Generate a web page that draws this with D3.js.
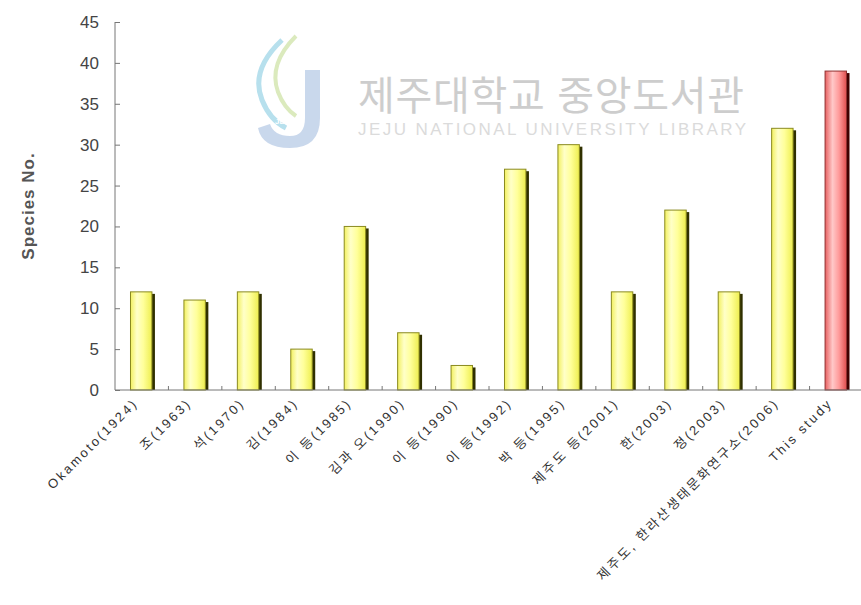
<!DOCTYPE html>
<html>
<head>
<meta charset="utf-8">
<script src="https://cdn.jsdelivr.net/npm/d3@7"></script>
<style>
    body { margin: 0; background: #fff; }
    text { font-family: Arial, "Liberation Sans", "Noto Sans CJK KR", sans-serif; }
</style>
</head>
<body>
<div id="chart"></div>
<script>
const categories = [
    "Okamoto(1924)", "조(1963)", "석(1970)", "김(1984)", "이 등(1985)",
    "김과 오(1990)", "이 등(1990)", "이 등(1992)", "박 등(1995)", "제주도 등(2001)",
    "한(2003)", "정(2003)", "제주도, 한라산생태문화연구소(2006)", "This study"
];
const speciesNo = [12, 11, 12, 5, 20, 7, 3, 27, 30, 12, 22, 12, 32, 39];
const yTicks = [0, 5, 10, 15, 20, 25, 30, 35, 40, 45];

const chart = {
    width: 861,
    height: 605,
    left: 115,
    right: 863,
    top: 22,
    bottom: 390,
    svg: {},
    plot: function() {
        const _self = chart;

        _self.svg = d3.select("#chart")
            .append("svg")
            .attr("width", _self.width)
            .attr("height", _self.height);

        const defs = _self.svg.append("defs");
        const addGrad = (id, stops) => {
            const g = defs.append("linearGradient").attr("id", id)
                .attr("x1", "0%").attr("x2", "100%").attr("y1", "0%").attr("y2", "0%");
            stops.forEach(s => g.append("stop").attr("offset", s[0]).attr("stop-color", s[1]));
        };
        addGrad("yellow", [["0%", "#f2f060"], ["30%", "#ffffc8"], ["60%", "#ffff9a"], ["100%", "#eeee50"]]);
        addGrad("red", [["0%", "#e86060"], ["35%", "#ffc8c8"], ["65%", "#ff9a9a"], ["100%", "#e05050"]]);

        _self.watermark();

        const x = d3.scaleBand()
            .domain(categories)
            .range([_self.left, _self.right])
            .paddingInner(0.58)
            .paddingOuter(0.29);

        const y = d3.scaleLinear()
            .domain([0, 45])
            .range([_self.bottom, _self.top]);

        // Y axis
        const yAxis = _self.svg.append("g")
            .attr("transform", `translate(${_self.left},0)`)
            .call(d3.axisRight(y).tickValues(yTicks).tickSize(5).tickFormat(""));
        yAxis.select(".domain").attr("stroke", "#777").attr("d", `M0,${_self.top}V${_self.bottom}`);
        yAxis.selectAll(".tick line").attr("stroke", "#777");

        _self.svg.append("g")
            .selectAll("text")
            .data(yTicks)
            .enter()
            .append("text")
            .attr("x", 99)
            .attr("y", d => y(d) + 6)
            .attr("text-anchor", "end")
            .attr("font-size", 17)
            .attr("fill", "#444")
            .text(d => d);

        _self.svg.append("text")
            .attr("transform", `translate(34,${(_self.top + _self.bottom) / 2}) rotate(-90)`)
            .attr("text-anchor", "middle")
            .attr("font-size", 17)
            .attr("font-weight", "bold")
            .attr("letter-spacing", 1)
            .attr("fill", "#555")
            .text("Species No.");

        // Bars: shadow then face
        const bars = _self.svg.selectAll("g.bar")
            .data(speciesNo)
            .enter()
            .append("g")
            .attr("class", "bar");

        bars.append("rect")
            .attr("x", (d, i) => x(categories[i]) + 3)
            .attr("y", d => y(d) + 2)
            .attr("width", x.bandwidth() - 1)
            .attr("height", d => _self.bottom - y(d) - 2)
            .attr("fill", (d, i) => i === categories.length - 1 ? "#400000" : "#303000");

        bars.append("rect")
            .attr("x", (d, i) => x(categories[i]))
            .attr("y", d => y(d))
            .attr("width", x.bandwidth() - 1)
            .attr("height", d => _self.bottom - y(d))
            .attr("fill", (d, i) => i === categories.length - 1 ? "url(#red)" : "url(#yellow)")
            .attr("stroke", (d, i) => i === categories.length - 1 ? "#903030" : "#8a8a20")
            .attr("stroke-width", 1);

        // X axis baseline and ticks between categories
        _self.svg.append("line")
            .attr("x1", _self.left).attr("x2", _self.right)
            .attr("y1", _self.bottom).attr("y2", _self.bottom)
            .attr("stroke", "#777");

        const step = x.step();
        _self.svg.append("g")
            .selectAll("line")
            .data(categories.slice(1))
            .enter()
            .append("line")
            .attr("x1", (d, i) => x(categories[i + 1]) - (step - x.bandwidth()) / 2)
            .attr("x2", (d, i) => x(categories[i + 1]) - (step - x.bandwidth()) / 2)
            .attr("y1", _self.bottom)
            .attr("y2", _self.bottom - 4)
            .attr("stroke", "#777");

        // Category labels
        _self.svg.append("g")
            .selectAll("text")
            .data(categories)
            .enter()
            .append("text")
            .attr("transform", d => `translate(${x(d) + x.bandwidth() / 2 - 3},${_self.bottom + 14}) rotate(-45)`)
            .attr("text-anchor", "end")
            .attr("font-size", 13)
            .attr("letter-spacing", 2.4)
            .attr("fill", "#333")
            .text(d => d);
    },
    watermark: function() {
        const g = chart.svg.append("g").attr("opacity", 0.75);

        // rough library logo
        g.append("path")
            .attr("d", "M305,70 L320,70 L320,118 Q320,148 290,148 Q262,148 258,128 L270,124 Q274,136 290,136 Q305,136 305,118 Z")
            .attr("fill", "#b8cbe6");
        g.append("path")
            .attr("d", "M282,40 Q250,70 262,100 Q270,120 286,128")
            .attr("fill", "none").attr("stroke", "#9fd6e8").attr("stroke-width", 5);
        g.append("path")
            .attr("d", "M296,36 Q268,64 278,92 Q284,108 296,116")
            .attr("fill", "none").attr("stroke", "#cfe3a8").attr("stroke-width", 4);
        g.append("text")
            .attr("x", 285).attr("y", 124)
            .attr("text-anchor", "middle")
            .attr("font-size", 8)
            .attr("font-weight", "bold")
            .attr("fill", "#fff")
            .text("JEJU");

        g.append("text")
            .attr("x", 358).attr("y", 110)
            .attr("font-family", "'Noto Sans CJK KR', sans-serif")
            .attr("font-size", 40)
            .attr("textLength", 386)
            .attr("fill", "#bdbdbd")
            .text("제주대학교 중앙도서관");

        g.append("text")
            .attr("x", 358).attr("y", 135)
            .attr("font-size", 17)
            .attr("textLength", 388)
            .attr("fill", "#cfcfcf")
            .text("JEJU NATIONAL UNIVERSITY  LIBRARY");
    }
};

chart.plot();
</script>
</body>
</html>
